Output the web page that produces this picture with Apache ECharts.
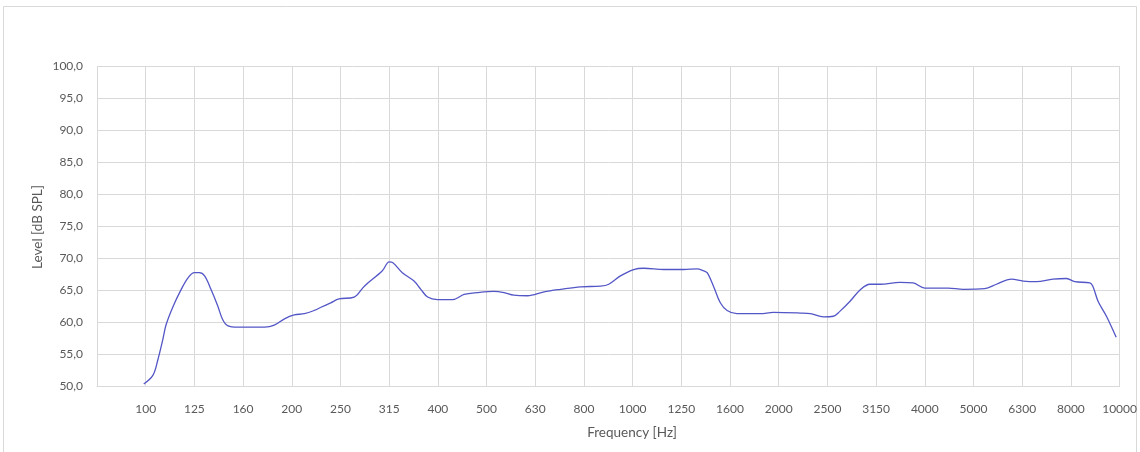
<!DOCTYPE html>
<html>
<head>
<meta charset="utf-8">
<script src="https://cdn.jsdelivr.net/npm/echarts@6/dist/echarts.min.js"></script>
<style>
  html, body { margin: 0; padding: 0; background: #fff; }
  #chart { width: 1140px; height: 452px; }
</style>
</head>
<body>
<div id="chart"></div>
<script>
// Third-octave band labels (x axis), band index 0..20
const bandLabels = ['100','125','160','200','250','315','400','500','630','800','1000','1250','1600','2000','2500','3150','4000','5000','6300','8000','10000'];

// Curve samples: position in band units (0 = 100 Hz, 20 = 10000 Hz) and level in dB SPL
const bandPos = [
  -0.04, 0.15, 0.25, 0.35, 0.42, 0.56, 0.73, 0.87, 1.00, 1.10, 1.21, 1.34, 1.48, 1.58, 1.69, 1.89,
  2.44, 2.64, 2.85, 3.05, 3.26, 3.46, 3.60, 3.80, 3.97, 4.28, 4.49, 4.86, 5.00, 5.07, 5.27, 5.51,
  5.65, 5.79, 5.99, 6.30, 6.54, 6.81, 7.15, 7.36, 7.56, 7.84, 8.18, 8.52, 8.93, 9.34, 9.51, 9.75,
  10.02, 10.23, 10.64, 11.05, 11.32, 11.46, 11.53, 11.66, 11.80, 11.94, 12.14, 12.62, 12.89, 13.44,
  13.65, 13.92, 14.12, 14.26, 14.46, 14.67, 14.87, 15.08, 15.49, 15.76, 16.00, 16.48, 16.79, 17.23,
  17.47, 17.78, 18.02, 18.29, 18.63, 18.91, 19.08, 19.39, 19.45, 19.56, 19.73, 19.93
];
const levelDb = [
  50.3, 51.7, 54.1, 57.2, 59.6, 62.4, 65.1, 66.9, 67.7, 67.7, 67.2, 65.1, 62.5, 60.4, 59.4, 59.2,
  59.2, 59.5, 60.5, 61.1, 61.3, 61.8, 62.3, 63.0, 63.6, 63.9, 65.6, 68.0, 69.4, 69.3, 67.7, 66.4,
  65.1, 63.9, 63.5, 63.5, 64.3, 64.6, 64.8, 64.6, 64.2, 64.1, 64.7, 65.1, 65.5, 65.6, 65.9, 67.2,
  68.2, 68.4, 68.2, 68.2, 68.3, 68.0, 67.7, 65.6, 63.0, 61.8, 61.3, 61.3, 61.5, 61.4,
  61.3, 60.8, 60.9, 61.7, 63.2, 65.0, 65.9, 65.9, 66.2, 66.1, 65.3, 65.3, 65.1, 65.2,
  65.9, 66.7, 66.4, 66.3, 66.7, 66.8, 66.3, 66.1, 65.6, 63.2, 60.9, 57.6
];

const yMin = 50, yMax = 100, yStep = 5;

const series = bandPos.map((p, i) => [p, levelDb[i]]);

const chart = echarts.init(document.getElementById('chart'), null, { renderer: 'canvas' });
const gridColor = '#d9d9d9';
const textColor = '#595959';
const fontFamily = 'Lato, "Open Sans", sans-serif';

chart.setOption({
  animation: false,
  backgroundColor: '#fff',
  grid: { left: 97, right: 20, top: 66, bottom: 66, containLabel: false },
  xAxis: {
    type: 'value',
    min: -1, max: 20, interval: 1,
    axisLine: { show: true, lineStyle: { color: gridColor } },
    axisTick: { show: false },
    splitLine: { show: true, lineStyle: { color: gridColor, width: 1 } },
    axisLabel: {
      color: textColor, fontSize: 12, fontFamily, margin: 17,
      showMinLabel: true, showMaxLabel: true,
      formatter: v => (v >= 0 && v < bandLabels.length) ? bandLabels[Math.round(v)] : ''
    }
  },
  yAxis: {
    type: 'value',
    min: yMin, max: yMax, interval: yStep,
    axisLine: { show: false },
    axisTick: { show: false },
    splitLine: { show: true, lineStyle: { color: gridColor, width: 1 } },
    axisLabel: {
      color: textColor, fontSize: 12, fontFamily, margin: 14,
      formatter: v => v.toFixed(1).replace('.', ',')
    }
  },
  graphic: [
    {
      type: 'rect', silent: true, z: -1,
      shape: { x: 3.5, y: 6.5, width: 1133, height: 460 },
      style: { fill: null, stroke: '#d9d9d9', lineWidth: 1 }
    },
    {
      type: 'text', silent: true,
      x: 38, y: 227, rotation: Math.PI / 2,
      style: { text: 'Level [dB SPL]', fill: textColor, font: '13.5px ' + fontFamily, align: 'center', verticalAlign: 'middle' }
    },
    {
      type: 'text', silent: true,
      x: 632, y: 433,
      style: { text: 'Frequency [Hz]', fill: textColor, font: '13.5px ' + fontFamily, align: 'center', verticalAlign: 'middle' }
    }
  ],
  series: [{
    type: 'line',
    data: series,
    smooth: 0.35,
    showSymbol: false,
    lineStyle: { color: '#5356c6', width: 1.3 },
    clip: true
  }]
});
</script>
</body>
</html>
